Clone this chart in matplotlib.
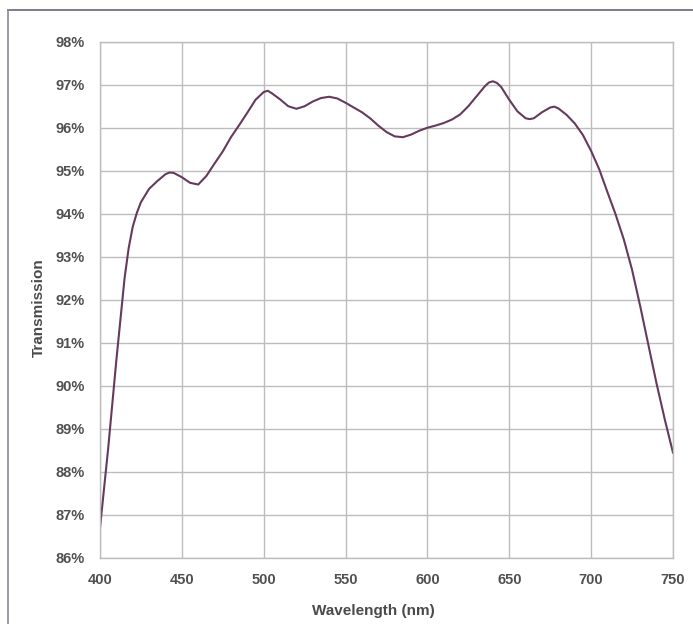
import matplotlib.pyplot as plt
from matplotlib.lines import Line2D
from matplotlib.ticker import PercentFormatter

plt.rcParams['font.family'] = ['Liberation Sans', 'DejaVu Sans']

# wavelength (nm) and transmission (%)
wavelength = [
    400, 405, 410, 415, 417.5, 420, 422.5, 425, 430, 435, 440, 442.5, 445,
    450, 455, 460, 465, 470, 475, 480, 485, 490, 495, 500, 502.5, 505,
    510, 515, 520, 525, 530, 535, 540, 545, 550, 555, 560, 565, 570, 575,
    580, 585, 590, 595, 600, 605, 610, 615, 620, 625, 630, 635, 637.5, 640,
    642.5, 645, 650, 655, 660, 662.5, 665, 670, 675, 677.5, 680, 685, 690,
    695, 700, 705, 710, 715, 720, 725, 730, 735, 740, 745, 750,
]
transmission = [
    86.7, 88.55, 90.6, 92.5, 93.2, 93.7, 94.02, 94.27, 94.58, 94.76, 94.92, 94.96, 94.95,
    94.85, 94.72, 94.68, 94.88, 95.17, 95.45, 95.78, 96.06, 96.35, 96.65, 96.83, 96.86, 96.80,
    96.66, 96.50, 96.44, 96.50, 96.61, 96.69, 96.72, 96.68, 96.58, 96.47, 96.36, 96.22, 96.05, 95.90,
    95.80, 95.78, 95.84, 95.93, 96.00, 96.05, 96.11, 96.19, 96.31, 96.50, 96.73, 96.96, 97.05, 97.08,
    97.04, 96.95, 96.65, 96.38, 96.22, 96.20, 96.22, 96.36, 96.47, 96.49, 96.45, 96.30, 96.10,
    95.83, 95.46, 95.03, 94.50, 93.98, 93.40, 92.70, 91.85, 90.95, 90.05, 89.22, 88.45,
]

x_ticks = [400, 450, 500, 550, 600, 650, 700, 750]
y_ticks = list(range(86, 99))

grid_col = '#bdbdbd'
text_col = '#505050'

fig = plt.figure(figsize=(6.93, 6.24), dpi=100)
ax = fig.add_axes([0.1443, 0.1058, 0.8268, 0.8274])

ax.plot(wavelength, transmission, color='#653a5c', linewidth=1.5,
        solid_joinstyle='round')

ax.set_xlim(400, 750)
ax.set_ylim(86, 98)
ax.set_xticks(x_ticks)
ax.set_yticks(y_ticks)
ax.yaxis.set_major_formatter(PercentFormatter(decimals=0))
ax.grid(True, color=grid_col, linewidth=1)
ax.set_axisbelow(True)
for s in ax.spines.values():
    s.set_color(grid_col)
    s.set_linewidth(1)
ax.tick_params(length=0, labelsize=10.5, labelcolor=text_col)
ax.tick_params(axis='y', pad=11)
ax.tick_params(axis='x', pad=10.5)
for lab in ax.get_xticklabels() + ax.get_yticklabels():
    lab.set_fontweight('bold')

ax.set_xlabel('Wavelength (nm)', fontsize=11, fontweight='bold', color='#4a4a4a',
              va='center')
ax.xaxis.set_label_coords(0.477, -0.103)
ax.set_ylabel('Transmission', fontsize=11, fontweight='bold', color='#4a4a4a',
              va='center')
ax.yaxis.set_label_coords(-0.107, 0.484)

# outer frame, top and left edges only
W, H = 693, 624
fig.add_artist(Line2D([8 / W, 1], [1 - 10 / H, 1 - 10 / H], color='#66667a', linewidth=1.2))
fig.add_artist(Line2D([8 / W, 8 / W], [0, 1 - 10 / H], color='#8a8a95', linewidth=1.2))

fig.savefig('out.png', dpi=100)
